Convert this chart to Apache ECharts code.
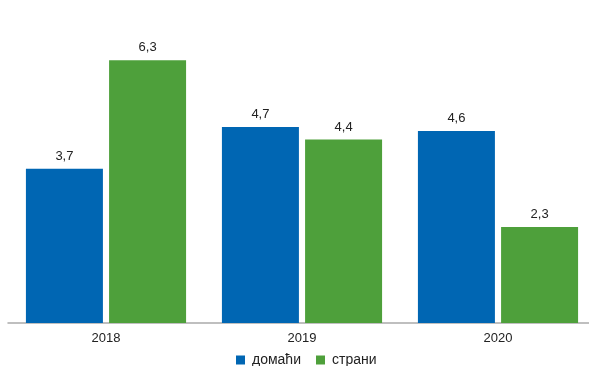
<!DOCTYPE html>
<html><head><meta charset="utf-8">
<script src="https://cdn.jsdelivr.net/npm/echarts@6/dist/echarts.min.js"></script>
<style>html,body{margin:0;padding:0;background:#fff;overflow:hidden}#c{width:596px;height:366px}</style>
</head><body><div id="c"></div>
<script>
const categories = ['2018', '2019', '2020'];
const domestic = [3.7, 4.7, 4.6];
const foreign = [6.3, 4.4, 2.3];
const seriesNames = ['домаћи', 'страни'];

const chart = echarts.init(document.getElementById('c'));
const FF = 'Liberation Sans, Arial, sans-serif';
const lbl = {
  show: true, position: 'top', distance: 6, color: '#222', fontSize: 13,
  fontFamily: FF,
  formatter: p => String(p.value).replace('.', ',')
};
chart.setOption({
  animation: false,
  grid: { left: 8, right: 0, top: 31, bottom: 43, containLabel: false },
  legend: {
    top: 348, left: 231, itemWidth: 9, itemHeight: 9, itemGap: 15,
    icon: 'rect',
    textStyle: { fontSize: 14, color: '#222', fontFamily: FF, padding: [0, 0, 0, 2] },
    data: seriesNames
  },
  xAxis: {
    type: 'category', data: categories,
    axisLine: { lineStyle: { color: '#aaaaaa', width: 1.5 } },
    axisTick: { show: false },
    axisLabel: { color: '#222', fontSize: 13, margin: 9, fontFamily: FF }
  },
  yAxis: { type: 'value', min: 0, max: 7, show: false, splitLine: { show: false } },
  series: [
    { name: seriesNames[0], type: 'bar', data: domestic, barWidth: 77, barGap: '8%',
      itemStyle: { color: '#0066b3' }, label: lbl },
    { name: seriesNames[1], type: 'bar', data: foreign, barWidth: 77, barGap: '8%',
      itemStyle: { color: '#4ea03b' }, label: lbl }
  ]
});
</script></body></html>
